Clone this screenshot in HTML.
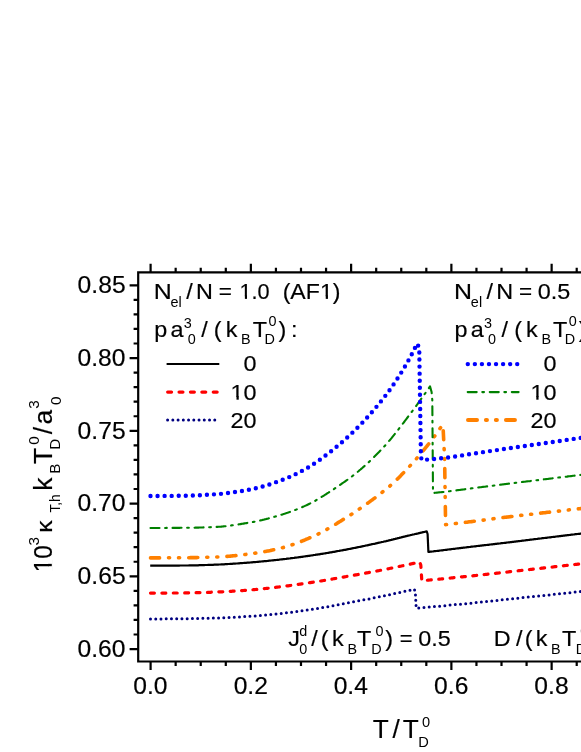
<!DOCTYPE html>
<html><head><meta charset="utf-8"><title>chart</title>
<style>svg{will-change:transform;}text{stroke:#000;stroke-width:0.18px;}text.s{stroke:none;}html,body{margin:0;padding:0;background:#fff;}body{width:581px;height:752px;overflow:hidden;position:relative;font-family:"Liberation Sans",sans-serif;}</style>
</head><body>
<svg width="581" height="752" viewBox="0 0 581 752" style="position:absolute;left:0;top:0;display:block" font-family="Liberation Sans, sans-serif" fill="#000">
<rect width="581" height="752" fill="#fff"/>
<g fill="none" stroke-linejoin="round">
<path d="M150.2 565.7 L151.2 565.7 L152.2 565.7 L153.2 565.7 L154.2 565.7 L155.2 565.7 L156.2 565.7 L157.2 565.7 L158.2 565.7 L159.2 565.7 L160.2 565.7 L161.2 565.7 L162.2 565.7 L163.2 565.7 L164.2 565.7 L165.2 565.7 L166.2 565.7 L167.2 565.6 L168.2 565.6 L169.2 565.6 L170.2 565.6 L171.2 565.6 L172.2 565.6 L173.2 565.6 L174.2 565.6 L175.2 565.6 L176.2 565.6 L177.2 565.6 L178.2 565.6 L179.2 565.6 L180.2 565.5 L181.2 565.5 L182.2 565.5 L183.2 565.5 L184.2 565.5 L185.2 565.5 L186.2 565.5 L187.2 565.5 L188.2 565.5 L189.2 565.4 L190.2 565.4 L191.2 565.4 L192.2 565.4 L193.2 565.4 L194.2 565.4 L195.2 565.3 L196.2 565.3 L197.2 565.3 L198.2 565.3 L199.2 565.2 L200.2 565.2 L201.2 565.2 L202.2 565.1 L203.2 565.1 L204.2 565.1 L205.2 565.0 L206.2 565.0 L207.2 565.0 L208.2 564.9 L209.2 564.9 L210.2 564.9 L211.2 564.8 L212.2 564.8 L213.2 564.8 L214.2 564.7 L215.2 564.7 L216.2 564.7 L217.2 564.6 L218.2 564.6 L219.2 564.5 L220.2 564.5 L221.2 564.4 L222.2 564.4 L223.2 564.3 L224.2 564.3 L225.2 564.2 L226.2 564.2 L227.2 564.1 L228.2 564.0 L229.2 564.0 L230.2 563.9 L231.2 563.9 L232.2 563.8 L233.2 563.7 L234.2 563.7 L235.2 563.6 L236.2 563.5 L237.2 563.5 L238.2 563.4 L239.2 563.3 L240.2 563.2 L241.2 563.2 L242.2 563.1 L243.2 563.0 L244.2 562.9 L245.2 562.9 L246.2 562.8 L247.2 562.7 L248.2 562.6 L249.2 562.6 L250.2 562.5 L251.2 562.4 L252.2 562.3 L253.2 562.2 L254.2 562.2 L255.2 562.1 L256.2 562.0 L257.2 561.9 L258.2 561.8 L259.2 561.7 L260.2 561.6 L261.2 561.5 L262.2 561.4 L263.2 561.3 L264.2 561.2 L265.2 561.2 L266.2 561.1 L267.2 561.0 L268.2 560.8 L269.2 560.7 L270.2 560.6 L271.2 560.5 L272.2 560.4 L273.2 560.3 L274.2 560.2 L275.2 560.1 L276.2 560.0 L277.2 559.9 L278.2 559.8 L279.2 559.7 L280.2 559.5 L281.2 559.4 L282.2 559.3 L283.2 559.2 L284.2 559.1 L285.2 559.0 L286.2 558.9 L287.2 558.7 L288.2 558.6 L289.2 558.5 L290.2 558.4 L291.2 558.2 L292.2 558.1 L293.2 558.0 L294.2 557.9 L295.2 557.7 L296.2 557.6 L297.2 557.5 L298.2 557.3 L299.2 557.2 L300.2 557.1 L301.2 556.9 L302.2 556.8 L303.2 556.6 L304.2 556.5 L305.2 556.3 L306.2 556.2 L307.2 556.1 L308.2 555.9 L309.2 555.8 L310.2 555.6 L311.2 555.5 L312.2 555.3 L313.2 555.2 L314.2 555.0 L315.2 554.9 L316.2 554.7 L317.2 554.6 L318.2 554.4 L319.2 554.3 L320.2 554.1 L321.2 553.9 L322.2 553.8 L323.2 553.6 L324.2 553.5 L325.2 553.3 L326.2 553.1 L327.2 553.0 L328.2 552.8 L329.2 552.6 L330.2 552.4 L331.2 552.3 L332.2 552.1 L333.2 551.9 L334.2 551.8 L335.2 551.6 L336.2 551.4 L337.2 551.2 L338.2 551.0 L339.2 550.9 L340.2 550.7 L341.2 550.5 L342.2 550.3 L343.2 550.1 L344.2 549.9 L345.2 549.8 L346.2 549.6 L347.2 549.4 L348.2 549.2 L349.2 549.0 L350.2 548.8 L351.2 548.6 L352.2 548.4 L353.2 548.2 L354.2 548.0 L355.2 547.8 L356.2 547.6 L357.2 547.4 L358.2 547.2 L359.2 547.0 L360.2 546.8 L361.2 546.6 L362.2 546.4 L363.2 546.2 L364.2 546.0 L365.2 545.7 L366.2 545.5 L367.2 545.3 L368.2 545.1 L369.2 544.9 L370.2 544.7 L371.2 544.4 L372.2 544.2 L373.2 544.0 L374.2 543.8 L375.2 543.6 L376.2 543.3 L377.2 543.1 L378.2 542.9 L379.2 542.7 L380.2 542.5 L381.2 542.2 L382.2 542.0 L383.2 541.8 L384.2 541.5 L385.2 541.3 L386.2 541.1 L387.2 540.8 L388.2 540.6 L389.2 540.3 L390.2 540.1 L391.2 539.9 L392.2 539.6 L393.2 539.4 L394.2 539.1 L395.2 538.9 L396.2 538.6 L397.2 538.4 L398.2 538.1 L399.2 537.9 L400.2 537.6 L401.2 537.4 L402.2 537.1 L403.2 536.9 L404.2 536.7 L405.2 536.4 L406.2 536.2 L407.2 535.9 L408.2 535.7 L409.2 535.5 L410.2 535.2 L411.2 535.0 L412.2 534.7 L413.2 534.5 L414.2 534.3 L415.2 534.0 L416.2 533.8 L417.2 533.6 L418.2 533.4 L419.2 533.1 L420.2 532.9 L421.2 532.7 L422.2 532.4 L423.2 532.2 L424.2 532.0 L425.2 531.7 L426.2 531.5 L426.7 531.4 L427.6 534.0 L428.4 552.0 L429.4 551.9 L430.4 551.7 L431.4 551.6 L432.4 551.5 L433.4 551.4 L434.4 551.2 L435.4 551.1 L436.4 551.0 L437.4 550.9 L438.4 550.8 L439.4 550.6 L440.4 550.5 L441.4 550.4 L442.4 550.3 L443.4 550.1 L444.4 550.0 L445.4 549.9 L446.4 549.8 L447.4 549.6 L448.4 549.5 L449.4 549.4 L450.4 549.3 L451.4 549.1 L452.4 549.0 L453.4 548.9 L454.4 548.8 L455.4 548.7 L456.4 548.5 L457.4 548.4 L458.4 548.3 L459.4 548.2 L460.4 548.1 L461.4 547.9 L462.4 547.8 L463.4 547.7 L464.4 547.6 L465.4 547.5 L466.4 547.3 L467.4 547.2 L468.4 547.1 L469.4 547.0 L470.4 546.9 L471.4 546.7 L472.4 546.6 L473.4 546.5 L474.4 546.4 L475.4 546.3 L476.4 546.1 L477.4 546.0 L478.4 545.9 L479.4 545.8 L480.4 545.7 L481.4 545.6 L482.4 545.4 L483.4 545.3 L484.4 545.2 L485.4 545.1 L486.4 545.0 L487.4 544.9 L488.4 544.8 L489.4 544.6 L490.4 544.5 L491.4 544.4 L492.4 544.3 L493.4 544.2 L494.4 544.1 L495.4 543.9 L496.4 543.8 L497.4 543.7 L498.4 543.6 L499.4 543.5 L500.4 543.4 L501.4 543.2 L502.4 543.1 L503.4 543.0 L504.4 542.9 L505.4 542.8 L506.4 542.6 L507.4 542.5 L508.4 542.4 L509.4 542.3 L510.4 542.2 L511.4 542.1 L512.4 541.9 L513.4 541.8 L514.4 541.7 L515.4 541.6 L516.4 541.4 L517.4 541.3 L518.4 541.2 L519.4 541.1 L520.4 541.0 L521.4 540.8 L522.4 540.7 L523.4 540.6 L524.4 540.5 L525.4 540.3 L526.4 540.2 L527.4 540.1 L528.4 540.0 L529.4 539.8 L530.4 539.7 L531.4 539.6 L532.4 539.5 L533.4 539.3 L534.4 539.2 L535.4 539.1 L536.4 539.0 L537.4 538.9 L538.4 538.7 L539.4 538.6 L540.4 538.5 L541.4 538.4 L542.4 538.2 L543.4 538.1 L544.4 538.0 L545.4 537.9 L546.4 537.8 L547.4 537.6 L548.4 537.5 L549.4 537.4 L550.4 537.3 L551.4 537.1 L552.4 537.0 L553.4 536.9 L554.4 536.8 L555.4 536.7 L556.4 536.5 L557.4 536.4 L558.4 536.3 L559.4 536.2 L560.4 536.1 L561.4 535.9 L562.4 535.8 L563.4 535.7 L564.4 535.6 L565.4 535.4 L566.4 535.3 L567.4 535.2 L568.4 535.1 L569.4 535.0 L570.4 534.8 L571.4 534.7 L572.4 534.6 L573.4 534.5 L574.4 534.4 L575.4 534.2 L576.4 534.1 L577.4 534.0 L578.4 533.9 L579.4 533.8 L580.4 533.6 L581.4 533.5 L582.4 533.4 L583.4 533.3 L584.4 533.2 L585.4 533.0 L586.4 532.9 L587.4 532.8 L588.4 532.7 L589.4 532.6 L590.0 532.5" stroke="#000" stroke-width="2.2"/>
<path d="M150.5 593.1 L151.5 593.1 L152.5 593.1 L153.5 593.1 L154.5 593.1 L155.5 593.1 L156.5 593.1 L157.5 593.1 L158.5 593.1 L159.5 593.1 L160.5 593.1 L161.5 593.1 L162.5 593.1 L163.5 593.1 L164.5 593.1 L165.5 593.1 L166.5 593.0 L167.5 593.0 L168.5 593.0 L169.5 593.0 L170.5 593.0 L171.5 593.0 L172.5 593.0 L173.5 593.0 L174.5 593.0 L175.5 593.0 L176.5 593.0 L177.5 593.0 L178.5 593.0 L179.5 593.0 L180.5 592.9 L181.5 592.9 L182.5 592.9 L183.5 592.9 L184.5 592.9 L185.5 592.9 L186.5 592.9 L187.5 592.9 L188.5 592.9 L189.5 592.8 L190.5 592.8 L191.5 592.8 L192.5 592.8 L193.5 592.8 L194.5 592.7 L195.5 592.7 L196.5 592.7 L197.5 592.7 L198.5 592.6 L199.5 592.6 L200.5 592.6 L201.5 592.6 L202.5 592.5 L203.5 592.5 L204.5 592.5 L205.5 592.4 L206.5 592.4 L207.5 592.4 L208.5 592.3 L209.5 592.3 L210.5 592.3 L211.5 592.2 L212.5 592.2 L213.5 592.2 L214.5 592.1 L215.5 592.1 L216.5 592.0 L217.5 592.0 L218.5 592.0 L219.5 591.9 L220.5 591.9 L221.5 591.8 L222.5 591.8 L223.5 591.7 L224.5 591.7 L225.5 591.6 L226.5 591.6 L227.5 591.5 L228.5 591.5 L229.5 591.4 L230.5 591.3 L231.5 591.3 L232.5 591.2 L233.5 591.2 L234.5 591.1 L235.5 591.0 L236.5 591.0 L237.5 590.9 L238.5 590.8 L239.5 590.8 L240.5 590.7 L241.5 590.6 L242.5 590.6 L243.5 590.5 L244.5 590.4 L245.5 590.3 L246.5 590.3 L247.5 590.2 L248.5 590.1 L249.5 590.0 L250.5 590.0 L251.5 589.9 L252.5 589.8 L253.5 589.7 L254.5 589.6 L255.5 589.5 L256.5 589.4 L257.5 589.4 L258.5 589.3 L259.5 589.2 L260.5 589.1 L261.5 589.0 L262.5 588.8 L263.5 588.7 L264.5 588.6 L265.5 588.5 L266.5 588.4 L267.5 588.3 L268.5 588.2 L269.5 588.1 L270.5 588.0 L271.5 587.8 L272.5 587.7 L273.5 587.6 L274.5 587.5 L275.5 587.4 L276.5 587.2 L277.5 587.1 L278.5 587.0 L279.5 586.9 L280.5 586.8 L281.5 586.6 L282.5 586.5 L283.5 586.4 L284.5 586.3 L285.5 586.1 L286.5 586.0 L287.5 585.9 L288.5 585.8 L289.5 585.6 L290.5 585.5 L291.5 585.4 L292.5 585.2 L293.5 585.1 L294.5 584.9 L295.5 584.8 L296.5 584.7 L297.5 584.5 L298.5 584.4 L299.5 584.2 L300.5 584.1 L301.5 583.9 L302.5 583.8 L303.5 583.7 L304.5 583.5 L305.5 583.4 L306.5 583.2 L307.5 583.1 L308.5 582.9 L309.5 582.7 L310.5 582.6 L311.5 582.4 L312.5 582.3 L313.5 582.1 L314.5 582.0 L315.5 581.8 L316.5 581.7 L317.5 581.5 L318.5 581.3 L319.5 581.2 L320.5 581.0 L321.5 580.9 L322.5 580.7 L323.5 580.5 L324.5 580.4 L325.5 580.2 L326.5 580.0 L327.5 579.9 L328.5 579.7 L329.5 579.5 L330.5 579.3 L331.5 579.2 L332.5 579.0 L333.5 578.8 L334.5 578.6 L335.5 578.5 L336.5 578.3 L337.5 578.1 L338.5 577.9 L339.5 577.8 L340.5 577.6 L341.5 577.4 L342.5 577.2 L343.5 577.1 L344.5 576.9 L345.5 576.7 L346.5 576.5 L347.5 576.4 L348.5 576.2 L349.5 576.0 L350.5 575.8 L351.5 575.7 L352.5 575.5 L353.5 575.3 L354.5 575.1 L355.5 574.9 L356.5 574.8 L357.5 574.6 L358.5 574.4 L359.5 574.2 L360.5 574.0 L361.5 573.9 L362.5 573.7 L363.5 573.5 L364.5 573.3 L365.5 573.1 L366.5 572.9 L367.5 572.8 L368.5 572.6 L369.5 572.4 L370.5 572.2 L371.5 572.0 L372.5 571.8 L373.5 571.6 L374.5 571.5 L375.5 571.3 L376.5 571.1 L377.5 570.9 L378.5 570.7 L379.5 570.5 L380.5 570.3 L381.5 570.1 L382.5 569.9 L383.5 569.7 L384.5 569.5 L385.5 569.3 L386.5 569.1 L387.5 568.9 L388.5 568.7 L389.5 568.5 L390.5 568.3 L391.5 568.1 L392.5 567.9 L393.5 567.7 L394.5 567.5 L395.5 567.3 L396.5 567.1 L397.5 566.9 L398.5 566.6 L399.5 566.4 L400.5 566.2 L401.5 566.0 L402.5 565.8 L403.5 565.6 L404.5 565.4 L405.5 565.2 L406.5 564.9 L407.5 564.7 L408.5 564.5 L409.5 564.3 L410.5 564.1 L411.5 563.8 L412.5 563.6 L413.5 563.4 L414.5 563.2 L415.5 562.9 L416.5 562.7 L417.5 562.5 L418.5 562.3 L419.5 562.0 L419.6 562.0 L420.8 565.0 L421.8 580.7 L422.8 580.6 L423.8 580.5 L424.8 580.4 L425.8 580.3 L426.8 580.3 L427.8 580.2 L428.8 580.1 L429.8 580.0 L430.8 579.9 L431.8 579.8 L432.8 579.7 L433.8 579.6 L434.8 579.5 L435.8 579.4 L436.8 579.3 L437.8 579.2 L438.8 579.2 L439.8 579.1 L440.8 579.0 L441.8 578.9 L442.8 578.8 L443.8 578.7 L444.8 578.6 L445.8 578.5 L446.8 578.4 L447.8 578.3 L448.8 578.2 L449.8 578.1 L450.8 578.0 L451.8 577.9 L452.8 577.8 L453.8 577.7 L454.8 577.6 L455.8 577.5 L456.8 577.4 L457.8 577.3 L458.8 577.2 L459.8 577.1 L460.8 577.0 L461.8 576.9 L462.8 576.8 L463.8 576.7 L464.8 576.6 L465.8 576.5 L466.8 576.4 L467.8 576.3 L468.8 576.2 L469.8 576.1 L470.8 576.0 L471.8 575.9 L472.8 575.8 L473.8 575.7 L474.8 575.6 L475.8 575.5 L476.8 575.4 L477.8 575.3 L478.8 575.2 L479.8 575.0 L480.8 574.9 L481.8 574.8 L482.8 574.7 L483.8 574.6 L484.8 574.5 L485.8 574.4 L486.8 574.3 L487.8 574.2 L488.8 574.1 L489.8 574.0 L490.8 573.8 L491.8 573.7 L492.8 573.6 L493.8 573.5 L494.8 573.4 L495.8 573.3 L496.8 573.2 L497.8 573.1 L498.8 573.0 L499.8 572.8 L500.8 572.7 L501.8 572.6 L502.8 572.5 L503.8 572.4 L504.8 572.3 L505.8 572.2 L506.8 572.1 L507.8 572.0 L508.8 571.8 L509.8 571.7 L510.8 571.6 L511.8 571.5 L512.8 571.4 L513.8 571.3 L514.8 571.2 L515.8 571.1 L516.8 571.0 L517.8 570.8 L518.8 570.7 L519.8 570.6 L520.8 570.5 L521.8 570.4 L522.8 570.3 L523.8 570.2 L524.8 570.1 L525.8 570.0 L526.8 569.8 L527.8 569.7 L528.8 569.6 L529.8 569.5 L530.8 569.4 L531.8 569.3 L532.8 569.2 L533.8 569.1 L534.8 568.9 L535.8 568.8 L536.8 568.7 L537.8 568.6 L538.8 568.5 L539.8 568.4 L540.8 568.3 L541.8 568.2 L542.8 568.1 L543.8 567.9 L544.8 567.8 L545.8 567.7 L546.8 567.6 L547.8 567.5 L548.8 567.4 L549.8 567.3 L550.8 567.2 L551.8 567.1 L552.8 567.0 L553.8 566.8 L554.8 566.7 L555.8 566.6 L556.8 566.5 L557.8 566.4 L558.8 566.3 L559.8 566.2 L560.8 566.1 L561.8 566.0 L562.8 565.9 L563.8 565.7 L564.8 565.6 L565.8 565.5 L566.8 565.4 L567.8 565.3 L568.8 565.2 L569.8 565.1 L570.8 565.0 L571.8 564.9 L572.8 564.8 L573.8 564.7 L574.8 564.5 L575.8 564.4 L576.8 564.3 L577.8 564.2 L578.8 564.1 L579.8 564.0 L580.8 563.9 L581.8 563.8 L582.8 563.7 L583.8 563.6 L584.8 563.5 L585.8 563.4 L586.8 563.2 L587.8 563.1 L588.8 563.0 L589.8 562.9 L590.0 562.9" stroke="#ff0000" stroke-width="3.2" stroke-dasharray="3.9 7.5" stroke-linecap="round"/>
<path d="M150.5 618.9 L151.5 618.9 L152.5 618.9 L153.5 618.9 L154.5 618.9 L155.5 618.9 L156.5 618.9 L157.5 618.9 L158.5 618.9 L159.5 618.9 L160.5 618.9 L161.5 618.9 L162.5 618.9 L163.5 618.9 L164.5 618.9 L165.5 618.9 L166.5 618.8 L167.5 618.8 L168.5 618.8 L169.5 618.8 L170.5 618.8 L171.5 618.8 L172.5 618.8 L173.5 618.8 L174.5 618.8 L175.5 618.8 L176.5 618.8 L177.5 618.8 L178.5 618.8 L179.5 618.8 L180.5 618.7 L181.5 618.7 L182.5 618.7 L183.5 618.7 L184.5 618.7 L185.5 618.7 L186.5 618.7 L187.5 618.7 L188.5 618.7 L189.5 618.6 L190.5 618.6 L191.5 618.6 L192.5 618.6 L193.5 618.6 L194.5 618.6 L195.5 618.5 L196.5 618.5 L197.5 618.5 L198.5 618.5 L199.5 618.4 L200.5 618.4 L201.5 618.4 L202.5 618.4 L203.5 618.3 L204.5 618.3 L205.5 618.3 L206.5 618.3 L207.5 618.2 L208.5 618.2 L209.5 618.2 L210.5 618.1 L211.5 618.1 L212.5 618.1 L213.5 618.0 L214.5 618.0 L215.5 618.0 L216.5 618.0 L217.5 617.9 L218.5 617.9 L219.5 617.8 L220.5 617.8 L221.5 617.8 L222.5 617.7 L223.5 617.7 L224.5 617.7 L225.5 617.6 L226.5 617.6 L227.5 617.5 L228.5 617.5 L229.5 617.4 L230.5 617.4 L231.5 617.3 L232.5 617.3 L233.5 617.2 L234.5 617.2 L235.5 617.1 L236.5 617.1 L237.5 617.0 L238.5 617.0 L239.5 616.9 L240.5 616.9 L241.5 616.8 L242.5 616.8 L243.5 616.7 L244.5 616.6 L245.5 616.6 L246.5 616.5 L247.5 616.5 L248.5 616.4 L249.5 616.3 L250.5 616.3 L251.5 616.2 L252.5 616.1 L253.5 616.1 L254.5 616.0 L255.5 615.9 L256.5 615.8 L257.5 615.8 L258.5 615.7 L259.5 615.6 L260.5 615.5 L261.5 615.4 L262.5 615.3 L263.5 615.2 L264.5 615.1 L265.5 615.1 L266.5 615.0 L267.5 614.9 L268.5 614.8 L269.5 614.7 L270.5 614.6 L271.5 614.5 L272.5 614.4 L273.5 614.3 L274.5 614.1 L275.5 614.0 L276.5 613.9 L277.5 613.8 L278.5 613.7 L279.5 613.6 L280.5 613.5 L281.5 613.4 L282.5 613.3 L283.5 613.2 L284.5 613.1 L285.5 612.9 L286.5 612.8 L287.5 612.7 L288.5 612.6 L289.5 612.5 L290.5 612.4 L291.5 612.2 L292.5 612.1 L293.5 612.0 L294.5 611.9 L295.5 611.7 L296.5 611.6 L297.5 611.5 L298.5 611.3 L299.5 611.2 L300.5 611.0 L301.5 610.9 L302.5 610.8 L303.5 610.6 L304.5 610.5 L305.5 610.3 L306.5 610.2 L307.5 610.0 L308.5 609.9 L309.5 609.7 L310.5 609.6 L311.5 609.4 L312.5 609.3 L313.5 609.1 L314.5 609.0 L315.5 608.8 L316.5 608.7 L317.5 608.5 L318.5 608.3 L319.5 608.2 L320.5 608.0 L321.5 607.8 L322.5 607.6 L323.5 607.5 L324.5 607.3 L325.5 607.1 L326.5 606.9 L327.5 606.7 L328.5 606.5 L329.5 606.4 L330.5 606.2 L331.5 606.0 L332.5 605.8 L333.5 605.6 L334.5 605.4 L335.5 605.2 L336.5 605.0 L337.5 604.8 L338.5 604.6 L339.5 604.4 L340.5 604.3 L341.5 604.1 L342.5 603.9 L343.5 603.7 L344.5 603.5 L345.5 603.3 L346.5 603.1 L347.5 602.9 L348.5 602.7 L349.5 602.6 L350.5 602.4 L351.5 602.2 L352.5 602.0 L353.5 601.8 L354.5 601.6 L355.5 601.4 L356.5 601.3 L357.5 601.1 L358.5 600.9 L359.5 600.7 L360.5 600.5 L361.5 600.3 L362.5 600.1 L363.5 599.9 L364.5 599.7 L365.5 599.6 L366.5 599.4 L367.5 599.2 L368.5 599.0 L369.5 598.8 L370.5 598.6 L371.5 598.4 L372.5 598.2 L373.5 598.0 L374.5 597.8 L375.5 597.6 L376.5 597.4 L377.5 597.2 L378.5 597.0 L379.5 596.8 L380.5 596.6 L381.5 596.4 L382.5 596.2 L383.5 596.0 L384.5 595.8 L385.5 595.6 L386.5 595.3 L387.5 595.1 L388.5 594.9 L389.5 594.7 L390.5 594.5 L391.5 594.3 L392.5 594.1 L393.5 593.8 L394.5 593.6 L395.5 593.4 L396.5 593.2 L397.5 593.0 L398.5 592.7 L399.5 592.5 L400.5 592.3 L401.5 592.1 L402.5 591.8 L403.5 591.6 L404.5 591.4 L405.5 591.2 L406.5 591.0 L407.5 590.7 L408.5 590.5 L409.5 590.3 L410.5 590.1 L411.5 589.8 L412.5 589.6 L413.5 589.4 L414.3 589.2 L415.3 592.0 L416.2 608.2 L417.2 608.1 L418.2 608.0 L419.2 607.9 L420.2 607.9 L421.2 607.8 L422.2 607.7 L423.2 607.6 L424.2 607.5 L425.2 607.4 L426.2 607.3 L427.2 607.2 L428.2 607.1 L429.2 607.1 L430.2 607.0 L431.2 606.9 L432.2 606.8 L433.2 606.7 L434.2 606.6 L435.2 606.5 L436.2 606.4 L437.2 606.3 L438.2 606.2 L439.2 606.2 L440.2 606.1 L441.2 606.0 L442.2 605.9 L443.2 605.8 L444.2 605.7 L445.2 605.6 L446.2 605.5 L447.2 605.4 L448.2 605.3 L449.2 605.2 L450.2 605.1 L451.2 605.0 L452.2 604.9 L453.2 604.8 L454.2 604.7 L455.2 604.6 L456.2 604.6 L457.2 604.5 L458.2 604.4 L459.2 604.3 L460.2 604.2 L461.2 604.1 L462.2 604.0 L463.2 603.9 L464.2 603.8 L465.2 603.7 L466.2 603.6 L467.2 603.5 L468.2 603.4 L469.2 603.3 L470.2 603.2 L471.2 603.1 L472.2 603.0 L473.2 602.9 L474.2 602.8 L475.2 602.7 L476.2 602.6 L477.2 602.5 L478.2 602.4 L479.2 602.3 L480.2 602.2 L481.2 602.1 L482.2 602.0 L483.2 601.8 L484.2 601.7 L485.2 601.6 L486.2 601.5 L487.2 601.4 L488.2 601.3 L489.2 601.2 L490.2 601.1 L491.2 601.0 L492.2 600.9 L493.2 600.8 L494.2 600.7 L495.2 600.6 L496.2 600.5 L497.2 600.4 L498.2 600.3 L499.2 600.2 L500.2 600.0 L501.2 599.9 L502.2 599.8 L503.2 599.7 L504.2 599.6 L505.2 599.5 L506.2 599.4 L507.2 599.3 L508.2 599.2 L509.2 599.1 L510.2 599.0 L511.2 598.9 L512.2 598.8 L513.2 598.7 L514.2 598.6 L515.2 598.5 L516.2 598.4 L517.2 598.2 L518.2 598.1 L519.2 598.0 L520.2 597.9 L521.2 597.8 L522.2 597.7 L523.2 597.6 L524.2 597.5 L525.2 597.4 L526.2 597.3 L527.2 597.2 L528.2 597.1 L529.2 597.0 L530.2 596.9 L531.2 596.8 L532.2 596.7 L533.2 596.6 L534.2 596.4 L535.2 596.3 L536.2 596.2 L537.2 596.1 L538.2 596.0 L539.2 595.9 L540.2 595.8 L541.2 595.7 L542.2 595.6 L543.2 595.5 L544.2 595.4 L545.2 595.3 L546.2 595.2 L547.2 595.1 L548.2 595.0 L549.2 594.9 L550.2 594.8 L551.2 594.7 L552.2 594.5 L553.2 594.4 L554.2 594.3 L555.2 594.2 L556.2 594.1 L557.2 594.0 L558.2 593.9 L559.2 593.8 L560.2 593.7 L561.2 593.6 L562.2 593.5 L563.2 593.4 L564.2 593.3 L565.2 593.2 L566.2 593.1 L567.2 593.0 L568.2 592.9 L569.2 592.8 L570.2 592.7 L571.2 592.6 L572.2 592.5 L573.2 592.3 L574.2 592.2 L575.2 592.1 L576.2 592.0 L577.2 591.9 L578.2 591.8 L579.2 591.7 L580.2 591.6 L581.2 591.5 L582.2 591.4 L583.2 591.3 L584.2 591.2 L585.2 591.1 L586.2 591.0 L587.2 590.9 L588.2 590.8 L589.2 590.7 L590.0 590.6" stroke="#000080" stroke-width="3.0" stroke-dasharray="0 5.24" stroke-linecap="round"/>
<path d="M150.5 557.9 L151.5 557.9 L152.5 557.9 L153.5 557.9 L154.5 557.9 L155.5 557.9 L156.5 557.9 L157.5 557.9 L158.5 557.9 L159.5 557.9 L160.5 557.9 L161.5 557.9 L162.5 557.9 L163.5 557.9 L164.5 557.9 L165.5 557.9 L166.5 557.8 L167.5 557.8 L168.5 557.8 L169.5 557.8 L170.5 557.8 L171.5 557.8 L172.5 557.8 L173.5 557.8 L174.5 557.8 L175.5 557.8 L176.5 557.8 L177.5 557.8 L178.5 557.8 L179.5 557.7 L180.5 557.7 L181.5 557.7 L182.5 557.7 L183.5 557.7 L184.5 557.7 L185.5 557.7 L186.5 557.7 L187.5 557.7 L188.5 557.7 L189.5 557.7 L190.5 557.6 L191.5 557.6 L192.5 557.6 L193.5 557.6 L194.5 557.6 L195.5 557.6 L196.5 557.6 L197.5 557.5 L198.5 557.5 L199.5 557.5 L200.5 557.5 L201.5 557.5 L202.5 557.4 L203.5 557.4 L204.5 557.4 L205.5 557.4 L206.5 557.3 L207.5 557.3 L208.5 557.3 L209.5 557.3 L210.5 557.2 L211.5 557.2 L212.5 557.2 L213.5 557.1 L214.5 557.1 L215.5 557.1 L216.5 557.0 L217.5 557.0 L218.5 557.0 L219.5 556.9 L220.5 556.9 L221.5 556.8 L222.5 556.7 L223.5 556.7 L224.5 556.6 L225.5 556.5 L226.5 556.4 L227.5 556.4 L228.5 556.3 L229.5 556.2 L230.5 556.1 L231.5 556.0 L232.5 555.9 L233.5 555.8 L234.5 555.7 L235.5 555.6 L236.5 555.5 L237.5 555.4 L238.5 555.3 L239.5 555.2 L240.5 555.0 L241.5 554.9 L242.5 554.8 L243.5 554.7 L244.5 554.6 L245.5 554.5 L246.5 554.3 L247.5 554.2 L248.5 554.1 L249.5 554.0 L250.5 553.8 L251.5 553.7 L252.5 553.6 L253.5 553.4 L254.5 553.3 L255.5 553.1 L256.5 553.0 L257.5 552.8 L258.5 552.7 L259.5 552.5 L260.5 552.4 L261.5 552.2 L262.5 552.0 L263.5 551.8 L264.5 551.6 L265.5 551.5 L266.5 551.3 L267.5 551.1 L268.5 550.9 L269.5 550.7 L270.5 550.5 L271.5 550.2 L272.5 550.0 L273.5 549.8 L274.5 549.6 L275.5 549.4 L276.5 549.1 L277.5 548.9 L278.5 548.7 L279.5 548.4 L280.5 548.2 L281.5 547.9 L282.5 547.7 L283.5 547.4 L284.5 547.1 L285.5 546.9 L286.5 546.6 L287.5 546.3 L288.5 546.0 L289.5 545.7 L290.5 545.3 L291.5 545.0 L292.5 544.7 L293.5 544.3 L294.5 544.0 L295.5 543.6 L296.5 543.2 L297.5 542.9 L298.5 542.5 L299.5 542.1 L300.5 541.7 L301.5 541.3 L302.5 540.9 L303.5 540.5 L304.5 540.1 L305.5 539.7 L306.5 539.2 L307.5 538.8 L308.5 538.4 L309.5 537.9 L310.5 537.5 L311.5 537.1 L312.5 536.6 L313.5 536.2 L314.5 535.7 L315.5 535.3 L316.5 534.8 L317.5 534.3 L318.5 533.8 L319.5 533.3 L320.5 532.8 L321.5 532.3 L322.5 531.8 L323.5 531.3 L324.5 530.7 L325.5 530.1 L326.5 529.6 L327.5 529.0 L328.5 528.4 L329.5 527.9 L330.5 527.3 L331.5 526.7 L332.5 526.1 L333.5 525.5 L334.5 524.9 L335.5 524.3 L336.5 523.7 L337.5 523.0 L338.5 522.4 L339.5 521.8 L340.5 521.2 L341.5 520.6 L342.5 519.9 L343.5 519.3 L344.5 518.7 L345.5 518.1 L346.5 517.5 L347.5 516.8 L348.5 516.2 L349.5 515.6 L350.5 514.9 L351.5 514.3 L352.5 513.6 L353.5 513.0 L354.5 512.3 L355.5 511.6 L356.5 511.0 L357.5 510.3 L358.5 509.6 L359.5 508.9 L360.5 508.2 L361.5 507.5 L362.5 506.9 L363.5 506.2 L364.5 505.4 L365.5 504.7 L366.5 504.0 L367.5 503.3 L368.5 502.6 L369.5 501.9 L370.5 501.1 L371.5 500.4 L372.5 499.7 L373.5 498.9 L374.5 498.2 L375.5 497.4 L376.5 496.7 L377.5 495.9 L378.5 495.2 L379.5 494.4 L380.5 493.6 L381.5 492.8 L382.5 492.0 L383.5 491.2 L384.5 490.4 L385.5 489.6 L386.5 488.8 L387.5 488.0 L388.5 487.1 L389.5 486.3 L390.5 485.4 L391.5 484.5 L392.5 483.6 L393.5 482.7 L394.5 481.8 L395.5 480.8 L396.5 479.8 L397.5 478.9 L398.5 477.9 L399.5 476.9 L400.5 475.9 L401.5 474.8 L402.5 473.8 L403.5 472.8 L404.5 471.7 L405.5 470.7 L406.5 469.6 L407.5 468.5 L408.5 467.4 L409.5 466.4 L410.5 465.3 L411.5 464.2 L412.5 463.1 L413.5 462.0 L414.5 460.8 L415.5 459.7 L416.5 458.6 L417.5 457.4 L418.5 456.3 L419.5 455.1 L420.5 453.9 L421.5 452.7 L422.5 451.5 L423.5 450.3 L424.5 449.1 L425.5 447.9 L426.5 446.7 L427.5 445.4 L428.5 444.2 L429.5 442.9 L430.5 441.7 L431.5 440.4 L432.5 439.1 L433.5 437.7 L434.5 436.4 L435.5 435.0 L436.5 433.6 L437.5 432.2 L438.5 430.8 L439.5 429.3 L440.5 427.8 L441.5 426.4 L441.6 426.2" stroke="#ff8000" stroke-width="3.6" stroke-dasharray="9.069 8.969 1.058 8.969 1.058 9.120" stroke-linecap="round"/>
<path d="M441.6 426.2 L443.2 430.0 L444.6 458.0 L445.6 524.6 L446.6 524.5 L447.6 524.4 L448.6 524.3 L449.6 524.2 L450.6 524.0 L451.6 523.9 L452.6 523.8 L453.6 523.7 L454.6 523.6 L455.6 523.5 L456.6 523.4 L457.6 523.2 L458.6 523.1 L459.6 523.0 L460.6 522.9 L461.6 522.8 L462.6 522.7 L463.6 522.5 L464.6 522.4 L465.6 522.3 L466.6 522.2 L467.6 522.1 L468.6 521.9 L469.6 521.8 L470.6 521.7 L471.6 521.6 L472.6 521.5 L473.6 521.3 L474.6 521.2 L475.6 521.1 L476.6 521.0 L477.6 520.8 L478.6 520.7 L479.6 520.6 L480.6 520.5 L481.6 520.3 L482.6 520.2 L483.6 520.1 L484.6 519.9 L485.6 519.8 L486.6 519.7 L487.6 519.5 L488.6 519.4 L489.6 519.3 L490.6 519.1 L491.6 519.0 L492.6 518.9 L493.6 518.7 L494.6 518.6 L495.6 518.5 L496.6 518.3 L497.6 518.2 L498.6 518.1 L499.6 518.0 L500.6 517.8 L501.6 517.7 L502.6 517.6 L503.6 517.5 L504.6 517.3 L505.6 517.2 L506.6 517.1 L507.6 517.0 L508.6 516.9 L509.6 516.7 L510.6 516.6 L511.6 516.5 L512.6 516.4 L513.6 516.3 L514.6 516.1 L515.6 516.0 L516.6 515.9 L517.6 515.8 L518.6 515.7 L519.6 515.6 L520.6 515.4 L521.6 515.3 L522.6 515.2 L523.6 515.1 L524.6 515.0 L525.6 514.9 L526.6 514.7 L527.6 514.6 L528.6 514.5 L529.6 514.4 L530.6 514.3 L531.6 514.2 L532.6 514.1 L533.6 513.9 L534.6 513.8 L535.6 513.7 L536.6 513.6 L537.6 513.5 L538.6 513.4 L539.6 513.2 L540.6 513.1 L541.6 513.0 L542.6 512.9 L543.6 512.8 L544.6 512.7 L545.6 512.6 L546.6 512.4 L547.6 512.3 L548.6 512.2 L549.6 512.1 L550.6 512.0 L551.6 511.9 L552.6 511.8 L553.6 511.6 L554.6 511.5 L555.6 511.4 L556.6 511.3 L557.6 511.2 L558.6 511.1 L559.6 511.0 L560.6 510.9 L561.6 510.7 L562.6 510.6 L563.6 510.5 L564.6 510.4 L565.6 510.3 L566.6 510.2 L567.6 510.1 L568.6 510.0 L569.6 509.8 L570.6 509.7 L571.6 509.6 L572.6 509.5 L573.6 509.4 L574.6 509.3 L575.6 509.2 L576.6 509.1 L577.6 509.0 L578.6 508.8 L579.6 508.7 L580.6 508.6 L581.6 508.5 L582.6 508.4 L583.6 508.3 L584.6 508.2 L585.6 508.1 L586.6 508.0 L587.6 507.9 L588.6 507.8 L589.6 507.6 L590.0 507.6" stroke="#ff8000" stroke-width="3.6" stroke-dasharray="9 8.9 1.05 8.9 1.05 9.05" stroke-dashoffset="33.12" stroke-linecap="round"/>
<path d="M150.5 528.0 L151.5 528.0 L152.5 528.0 L153.5 528.0 L154.5 528.0 L155.5 528.0 L156.5 528.0 L157.5 528.0 L158.5 528.0 L159.5 528.0 L160.5 528.0 L161.5 528.0 L162.5 528.0 L163.5 528.0 L164.5 528.0 L165.5 528.0 L166.5 527.9 L167.5 527.9 L168.5 527.9 L169.5 527.9 L170.5 527.9 L171.5 527.9 L172.5 527.9 L173.5 527.9 L174.5 527.9 L175.5 527.9 L176.5 527.9 L177.5 527.9 L178.5 527.9 L179.5 527.9 L180.5 527.8 L181.5 527.8 L182.5 527.8 L183.5 527.8 L184.5 527.8 L185.5 527.8 L186.5 527.8 L187.5 527.8 L188.5 527.8 L189.5 527.7 L190.5 527.7 L191.5 527.7 L192.5 527.7 L193.5 527.7 L194.5 527.7 L195.5 527.6 L196.5 527.6 L197.5 527.6 L198.5 527.6 L199.5 527.5 L200.5 527.5 L201.5 527.5 L202.5 527.5 L203.5 527.4 L204.5 527.4 L205.5 527.4 L206.5 527.3 L207.5 527.3 L208.5 527.3 L209.5 527.2 L210.5 527.2 L211.5 527.1 L212.5 527.1 L213.5 527.1 L214.5 527.0 L215.5 527.0 L216.5 526.9 L217.5 526.9 L218.5 526.8 L219.5 526.7 L220.5 526.7 L221.5 526.6 L222.5 526.5 L223.5 526.4 L224.5 526.3 L225.5 526.2 L226.5 526.1 L227.5 526.0 L228.5 525.8 L229.5 525.7 L230.5 525.6 L231.5 525.4 L232.5 525.3 L233.5 525.2 L234.5 525.0 L235.5 524.9 L236.5 524.7 L237.5 524.6 L238.5 524.4 L239.5 524.3 L240.5 524.1 L241.5 523.9 L242.5 523.8 L243.5 523.6 L244.5 523.4 L245.5 523.3 L246.5 523.1 L247.5 522.9 L248.5 522.8 L249.5 522.6 L250.5 522.4 L251.5 522.2 L252.5 522.1 L253.5 521.9 L254.5 521.7 L255.5 521.5 L256.5 521.3 L257.5 521.1 L258.5 520.8 L259.5 520.6 L260.5 520.4 L261.5 520.2 L262.5 519.9 L263.5 519.7 L264.5 519.4 L265.5 519.2 L266.5 518.9 L267.5 518.7 L268.5 518.4 L269.5 518.2 L270.5 517.9 L271.5 517.6 L272.5 517.3 L273.5 517.1 L274.5 516.8 L275.5 516.5 L276.5 516.2 L277.5 515.9 L278.5 515.6 L279.5 515.3 L280.5 515.0 L281.5 514.7 L282.5 514.4 L283.5 514.1 L284.5 513.8 L285.5 513.4 L286.5 513.1 L287.5 512.8 L288.5 512.4 L289.5 512.1 L290.5 511.7 L291.5 511.4 L292.5 511.0 L293.5 510.6 L294.5 510.3 L295.5 509.9 L296.5 509.5 L297.5 509.1 L298.5 508.7 L299.5 508.3 L300.5 507.8 L301.5 507.4 L302.5 507.0 L303.5 506.5 L304.5 506.1 L305.5 505.6 L306.5 505.2 L307.5 504.7 L308.5 504.2 L309.5 503.7 L310.5 503.3 L311.5 502.8 L312.5 502.2 L313.5 501.7 L314.5 501.2 L315.5 500.6 L316.5 500.0 L317.5 499.5 L318.5 498.9 L319.5 498.3 L320.5 497.7 L321.5 497.0 L322.5 496.4 L323.5 495.8 L324.5 495.2 L325.5 494.5 L326.5 493.9 L327.5 493.2 L328.5 492.6 L329.5 491.9 L330.5 491.2 L331.5 490.6 L332.5 489.9 L333.5 489.3 L334.5 488.6 L335.5 487.9 L336.5 487.3 L337.5 486.6 L338.5 485.9 L339.5 485.3 L340.5 484.6 L341.5 483.9 L342.5 483.2 L343.5 482.5 L344.5 481.8 L345.5 481.1 L346.5 480.4 L347.5 479.7 L348.5 478.9 L349.5 478.2 L350.5 477.5 L351.5 476.7 L352.5 476.0 L353.5 475.2 L354.5 474.4 L355.5 473.6 L356.5 472.8 L357.5 472.0 L358.5 471.2 L359.5 470.3 L360.5 469.5 L361.5 468.6 L362.5 467.8 L363.5 466.9 L364.5 466.0 L365.5 465.1 L366.5 464.2 L367.5 463.3 L368.5 462.4 L369.5 461.4 L370.5 460.5 L371.5 459.5 L372.5 458.6 L373.5 457.6 L374.5 456.6 L375.5 455.6 L376.5 454.6 L377.5 453.6 L378.5 452.6 L379.5 451.5 L380.5 450.5 L381.5 449.4 L382.5 448.4 L383.5 447.3 L384.5 446.2 L385.5 445.1 L386.5 444.0 L387.5 442.8 L388.5 441.6 L389.5 440.5 L390.5 439.3 L391.5 438.1 L392.5 436.8 L393.5 435.6 L394.5 434.4 L395.5 433.1 L396.5 431.8 L397.5 430.6 L398.5 429.3 L399.5 428.0 L400.5 426.7 L401.5 425.4 L402.5 424.1 L403.5 422.8 L404.5 421.5 L405.5 420.1 L406.5 418.8 L407.5 417.5 L408.5 416.2 L409.5 414.9 L410.5 413.6 L411.5 412.2 L412.5 410.9 L413.5 409.5 L414.5 408.2 L415.5 406.8 L416.5 405.5 L417.5 404.1 L418.5 402.7 L419.5 401.3 L420.5 399.9 L421.5 398.5 L422.5 397.1 L423.5 395.7 L424.5 394.3 L425.5 392.9 L426.5 391.4 L427.5 390.0 L428.5 388.6 L429.5 387.1 L430.0 386.4 L431.6 392.0 L432.3 400.0 L433.0 492.9 L434.0 492.9 L435.0 492.8 L436.0 492.7 L437.0 492.6 L438.0 492.5 L439.0 492.4 L440.0 492.3 L441.0 492.2 L442.0 492.1 L443.0 492.0 L444.0 491.9 L445.0 491.8 L446.0 491.6 L447.0 491.5 L448.0 491.4 L449.0 491.3 L450.0 491.2 L451.0 491.0 L452.0 490.9 L453.0 490.8 L454.0 490.7 L455.0 490.5 L456.0 490.4 L457.0 490.3 L458.0 490.1 L459.0 490.0 L460.0 489.9 L461.0 489.7 L462.0 489.6 L463.0 489.5 L464.0 489.4 L465.0 489.2 L466.0 489.1 L467.0 489.0 L468.0 488.8 L469.0 488.7 L470.0 488.6 L471.0 488.4 L472.0 488.3 L473.0 488.2 L474.0 488.1 L475.0 487.9 L476.0 487.8 L477.0 487.7 L478.0 487.5 L479.0 487.4 L480.0 487.3 L481.0 487.2 L482.0 487.0 L483.0 486.9 L484.0 486.8 L485.0 486.7 L486.0 486.5 L487.0 486.4 L488.0 486.3 L489.0 486.2 L490.0 486.0 L491.0 485.9 L492.0 485.8 L493.0 485.7 L494.0 485.5 L495.0 485.4 L496.0 485.3 L497.0 485.2 L498.0 485.0 L499.0 484.9 L500.0 484.8 L501.0 484.6 L502.0 484.5 L503.0 484.4 L504.0 484.3 L505.0 484.1 L506.0 484.0 L507.0 483.9 L508.0 483.8 L509.0 483.6 L510.0 483.5 L511.0 483.4 L512.0 483.3 L513.0 483.2 L514.0 483.0 L515.0 482.9 L516.0 482.8 L517.0 482.7 L518.0 482.5 L519.0 482.4 L520.0 482.3 L521.0 482.2 L522.0 482.0 L523.0 481.9 L524.0 481.8 L525.0 481.7 L526.0 481.5 L527.0 481.4 L528.0 481.3 L529.0 481.2 L530.0 481.1 L531.0 480.9 L532.0 480.8 L533.0 480.7 L534.0 480.6 L535.0 480.4 L536.0 480.3 L537.0 480.2 L538.0 480.1 L539.0 480.0 L540.0 479.8 L541.0 479.7 L542.0 479.6 L543.0 479.5 L544.0 479.3 L545.0 479.2 L546.0 479.1 L547.0 479.0 L548.0 478.9 L549.0 478.7 L550.0 478.6 L551.0 478.5 L552.0 478.4 L553.0 478.2 L554.0 478.1 L555.0 478.0 L556.0 477.9 L557.0 477.8 L558.0 477.6 L559.0 477.5 L560.0 477.4 L561.0 477.3 L562.0 477.2 L563.0 477.0 L564.0 476.9 L565.0 476.8 L566.0 476.7 L567.0 476.6 L568.0 476.4 L569.0 476.3 L570.0 476.2 L571.0 476.1 L572.0 476.0 L573.0 475.8 L574.0 475.7 L575.0 475.6 L576.0 475.5 L577.0 475.4 L578.0 475.2 L579.0 475.1 L580.0 475.0 L581.0 474.9 L582.0 474.8 L583.0 474.6 L584.0 474.5 L585.0 474.4 L586.0 474.3 L587.0 474.2 L588.0 474.0 L589.0 473.9 L590.0 473.8" stroke="#008000" stroke-width="2.1" stroke-dasharray="9 5.6 1.7 5.75" stroke-linecap="round"/>
<path d="M150.5 496.0 L151.5 496.0 L152.5 496.0 L153.5 496.0 L154.5 496.0 L155.5 496.0 L156.5 496.0 L157.5 496.0 L158.5 496.0 L159.5 496.0 L160.5 496.0 L161.5 496.0 L162.5 496.0 L163.5 495.9 L164.5 495.9 L165.5 495.9 L166.5 495.9 L167.5 495.9 L168.5 495.9 L169.5 495.9 L170.5 495.9 L171.5 495.9 L172.5 495.9 L173.5 495.9 L174.5 495.8 L175.5 495.8 L176.5 495.8 L177.5 495.8 L178.5 495.8 L179.5 495.8 L180.5 495.8 L181.5 495.8 L182.5 495.7 L183.5 495.7 L184.5 495.7 L185.5 495.7 L186.5 495.7 L187.5 495.7 L188.5 495.6 L189.5 495.6 L190.5 495.6 L191.5 495.5 L192.5 495.5 L193.5 495.5 L194.5 495.4 L195.5 495.4 L196.5 495.4 L197.5 495.3 L198.5 495.3 L199.5 495.2 L200.5 495.2 L201.5 495.1 L202.5 495.1 L203.5 495.0 L204.5 495.0 L205.5 494.9 L206.5 494.8 L207.5 494.8 L208.5 494.7 L209.5 494.7 L210.5 494.6 L211.5 494.5 L212.5 494.5 L213.5 494.4 L214.5 494.3 L215.5 494.3 L216.5 494.2 L217.5 494.1 L218.5 494.0 L219.5 493.9 L220.5 493.9 L221.5 493.8 L222.5 493.7 L223.5 493.5 L224.5 493.4 L225.5 493.3 L226.5 493.2 L227.5 493.1 L228.5 493.0 L229.5 492.8 L230.5 492.7 L231.5 492.6 L232.5 492.4 L233.5 492.3 L234.5 492.1 L235.5 492.0 L236.5 491.8 L237.5 491.7 L238.5 491.5 L239.5 491.4 L240.5 491.2 L241.5 491.0 L242.5 490.9 L243.5 490.7 L244.5 490.5 L245.5 490.3 L246.5 490.1 L247.5 490.0 L248.5 489.8 L249.5 489.6 L250.5 489.4 L251.5 489.2 L252.5 489.0 L253.5 488.8 L254.5 488.6 L255.5 488.3 L256.5 488.1 L257.5 487.8 L258.5 487.6 L259.5 487.3 L260.5 487.1 L261.5 486.8 L262.5 486.5 L263.5 486.2 L264.5 485.9 L265.5 485.6 L266.5 485.3 L267.5 485.0 L268.5 484.7 L269.5 484.4 L270.5 484.0 L271.5 483.7 L272.5 483.4 L273.5 483.0 L274.5 482.7 L275.5 482.3 L276.5 482.0 L277.5 481.6 L278.5 481.2 L279.5 480.9 L280.5 480.5 L281.5 480.1 L282.5 479.8 L283.5 479.4 L284.5 479.0 L285.5 478.6 L286.5 478.2 L287.5 477.8 L288.5 477.4 L289.5 477.0 L290.5 476.5 L291.5 476.1 L292.5 475.6 L293.5 475.2 L294.5 474.7 L295.5 474.2 L296.5 473.7 L297.5 473.2 L298.5 472.7 L299.5 472.2 L300.5 471.7 L301.5 471.1 L302.5 470.6 L303.5 470.1 L304.5 469.5 L305.5 468.9 L306.5 468.4 L307.5 467.8 L308.5 467.2 L309.5 466.6 L310.5 466.0 L311.5 465.4 L312.5 464.7 L313.5 464.1 L314.5 463.4 L315.5 462.8 L316.5 462.1 L317.5 461.4 L318.5 460.7 L319.5 460.0 L320.5 459.2 L321.5 458.5 L322.5 457.8 L323.5 457.0 L324.5 456.3 L325.5 455.5 L326.5 454.8 L327.5 454.0 L328.5 453.2 L329.5 452.4 L330.5 451.7 L331.5 450.9 L332.5 450.1 L333.5 449.3 L334.5 448.5 L335.5 447.7 L336.5 446.8 L337.5 446.0 L338.5 445.2 L339.5 444.3 L340.5 443.5 L341.5 442.6 L342.5 441.7 L343.5 440.8 L344.5 439.9 L345.5 439.0 L346.5 438.1 L347.5 437.2 L348.5 436.3 L349.5 435.4 L350.5 434.4 L351.5 433.5 L352.5 432.5 L353.5 431.5 L354.5 430.6 L355.5 429.6 L356.5 428.6 L357.5 427.6 L358.5 426.6 L359.5 425.6 L360.5 424.6 L361.5 423.5 L362.5 422.5 L363.5 421.4 L364.5 420.4 L365.5 419.3 L366.5 418.2 L367.5 417.1 L368.5 416.0 L369.5 414.9 L370.5 413.8 L371.5 412.6 L372.5 411.5 L373.5 410.3 L374.5 409.1 L375.5 408.0 L376.5 406.8 L377.5 405.6 L378.5 404.4 L379.5 403.1 L380.5 401.9 L381.5 400.7 L382.5 399.4 L383.5 398.1 L384.5 396.9 L385.5 395.6 L386.5 394.2 L387.5 392.9 L388.5 391.5 L389.5 390.2 L390.5 388.8 L391.5 387.3 L392.5 385.9 L393.5 384.5 L394.5 383.0 L395.5 381.5 L396.5 380.0 L397.5 378.5 L398.5 377.0 L399.5 375.4 L400.5 373.8 L401.5 372.2 L402.5 370.6 L403.5 369.0 L404.5 367.3 L405.5 365.6 L406.5 363.8 L407.5 362.1 L408.5 360.3 L409.5 358.5 L410.5 356.6 L411.5 354.7 L412.5 352.8 L413.5 350.8 L414.5 348.8 L415.5 346.7 L416.5 344.6 L417.0 343.6 L418.7 346.5 L419.3 352.0 L420.9 455.0 L421.5 459.8 L422.5 459.9 L423.5 459.9 L424.5 459.8 L425.5 459.7 L426.5 459.6 L427.5 459.6 L428.5 459.5 L429.5 459.4 L430.5 459.3 L431.5 459.2 L432.5 459.1 L433.5 459.0 L434.5 459.0 L435.5 458.9 L436.5 458.8 L437.5 458.7 L438.5 458.6 L439.5 458.5 L440.5 458.4 L441.5 458.2 L442.5 458.1 L443.5 458.0 L444.5 457.9 L445.5 457.8 L446.5 457.7 L447.5 457.5 L448.5 457.4 L449.5 457.3 L450.5 457.1 L451.5 457.0 L452.5 456.8 L453.5 456.7 L454.5 456.5 L455.5 456.4 L456.5 456.2 L457.5 456.1 L458.5 455.9 L459.5 455.8 L460.5 455.6 L461.5 455.5 L462.5 455.3 L463.5 455.1 L464.5 455.0 L465.5 454.8 L466.5 454.7 L467.5 454.5 L468.5 454.3 L469.5 454.2 L470.5 454.0 L471.5 453.9 L472.5 453.7 L473.5 453.6 L474.5 453.4 L475.5 453.3 L476.5 453.1 L477.5 453.0 L478.5 452.8 L479.5 452.7 L480.5 452.5 L481.5 452.4 L482.5 452.2 L483.5 452.1 L484.5 451.9 L485.5 451.8 L486.5 451.6 L487.5 451.5 L488.5 451.3 L489.5 451.2 L490.5 451.0 L491.5 450.9 L492.5 450.7 L493.5 450.6 L494.5 450.5 L495.5 450.3 L496.5 450.2 L497.5 450.0 L498.5 449.9 L499.5 449.7 L500.5 449.6 L501.5 449.4 L502.5 449.3 L503.5 449.1 L504.5 449.0 L505.5 448.8 L506.5 448.7 L507.5 448.5 L508.5 448.4 L509.5 448.2 L510.5 448.1 L511.5 447.9 L512.5 447.8 L513.5 447.6 L514.5 447.5 L515.5 447.3 L516.5 447.2 L517.5 447.0 L518.5 446.9 L519.5 446.8 L520.5 446.6 L521.5 446.5 L522.5 446.3 L523.5 446.2 L524.5 446.0 L525.5 445.9 L526.5 445.7 L527.5 445.6 L528.5 445.4 L529.5 445.3 L530.5 445.1 L531.5 445.0 L532.5 444.9 L533.5 444.7 L534.5 444.6 L535.5 444.4 L536.5 444.3 L537.5 444.1 L538.5 444.0 L539.5 443.8 L540.5 443.7 L541.5 443.6 L542.5 443.4 L543.5 443.3 L544.5 443.1 L545.5 443.0 L546.5 442.8 L547.5 442.7 L548.5 442.5 L549.5 442.4 L550.5 442.3 L551.5 442.1 L552.5 442.0 L553.5 441.8 L554.5 441.7 L555.5 441.5 L556.5 441.4 L557.5 441.2 L558.5 441.1 L559.5 441.0 L560.5 440.8 L561.5 440.7 L562.5 440.5 L563.5 440.4 L564.5 440.2 L565.5 440.1 L566.5 439.9 L567.5 439.8 L568.5 439.7 L569.5 439.5 L570.5 439.4 L571.5 439.2 L572.5 439.1 L573.5 438.9 L574.5 438.8 L575.5 438.7 L576.5 438.5 L577.5 438.4 L578.5 438.2 L579.5 438.1 L580.5 437.9 L581.5 437.8 L582.5 437.7 L583.5 437.5 L584.5 437.4 L585.5 437.2 L586.5 437.1 L587.5 437.0 L588.5 436.8 L589.5 436.7 L590.0 436.6" stroke="#0000ff" stroke-width="4.4" stroke-dasharray="0 7.06" stroke-linecap="round"/>
</g>
<g fill="none">
<path d="M166.6 364 H219.3" stroke="#000" stroke-width="2.2"/>
<path d="M167.65 392.1 H218" stroke="#ff0000" stroke-width="3.2" stroke-dasharray="3.9 7.5" stroke-linecap="round"/>
<path d="M167.6 420.1 H216" stroke="#000080" stroke-width="3.0" stroke-dasharray="0 5.24" stroke-linecap="round"/>
<path d="M467.8 364.1 H519" stroke="#0000ff" stroke-width="4.4" stroke-dasharray="0 7.06" stroke-linecap="round"/>
<path d="M467.7 392.1 H518.6" stroke="#008000" stroke-width="2.1" stroke-dasharray="9 5.6 1.7 5.75" stroke-linecap="round"/>
<path d="M468 420.1 H515" stroke="#ff8000" stroke-width="4" stroke-dasharray="9 8.9 1.05 8.9 1.05 9.05" stroke-linecap="round"/>
</g>
<path d="M138.2 662.6 V272.3 H581 M137.1 661.5 H581 M150.60 661.5 v8.6 M150.60 272.3 v-8.6 M175.66 661.5 v4.6 M175.66 272.3 v-4.6 M200.73 661.5 v4.6 M200.73 272.3 v-4.6 M225.80 661.5 v4.6 M225.80 272.3 v-4.6 M250.86 661.5 v8.6 M250.86 272.3 v-8.6 M275.93 661.5 v4.6 M275.93 272.3 v-4.6 M300.99 661.5 v4.6 M300.99 272.3 v-4.6 M326.06 661.5 v4.6 M326.06 272.3 v-4.6 M351.12 661.5 v8.6 M351.12 272.3 v-8.6 M376.19 661.5 v4.6 M376.19 272.3 v-4.6 M401.25 661.5 v4.6 M401.25 272.3 v-4.6 M426.32 661.5 v4.6 M426.32 272.3 v-4.6 M451.38 661.5 v8.6 M451.38 272.3 v-8.6 M476.45 661.5 v4.6 M476.45 272.3 v-4.6 M501.51 661.5 v4.6 M501.51 272.3 v-4.6 M526.58 661.5 v4.6 M526.58 272.3 v-4.6 M551.64 661.5 v8.6 M551.64 272.3 v-8.6 M576.71 661.5 v4.6 M576.71 272.3 v-4.6 M601.77 661.5 v4.6 M601.77 272.3 v-4.6 M138.2 649.05 h-8.6 M138.2 634.50 h-4.6 M138.2 619.95 h-4.6 M138.2 605.40 h-4.6 M138.2 590.85 h-4.6 M138.2 576.30 h-8.6 M138.2 561.75 h-4.6 M138.2 547.20 h-4.6 M138.2 532.65 h-4.6 M138.2 518.10 h-4.6 M138.2 503.55 h-8.6 M138.2 489.00 h-4.6 M138.2 474.45 h-4.6 M138.2 459.90 h-4.6 M138.2 445.35 h-4.6 M138.2 430.80 h-8.6 M138.2 416.25 h-4.6 M138.2 401.70 h-4.6 M138.2 387.15 h-4.6 M138.2 372.60 h-4.6 M138.2 358.05 h-8.6 M138.2 343.50 h-4.6 M138.2 328.95 h-4.6 M138.2 314.40 h-4.6 M138.2 299.85 h-4.6 M138.2 285.30 h-8.6" fill="none" stroke="#000" stroke-width="2.2" stroke-linecap="butt"/>
<text transform="translate(77.56 656.95) scale(1.0450 1)" font-size="23.6">0.60</text>
<text transform="translate(77.62 584.20) scale(1.0450 1)" font-size="23.6">0.65</text>
<text transform="translate(77.56 511.45) scale(1.0450 1)" font-size="23.6">0.70</text>
<text transform="translate(77.62 438.70) scale(1.0450 1)" font-size="23.6">0.75</text>
<text transform="translate(77.56 365.95) scale(1.0450 1)" font-size="23.6">0.80</text>
<text transform="translate(77.62 293.20) scale(1.0450 1)" font-size="23.6">0.85</text>
<text transform="translate(133.23 694.20) scale(1.0450 1)" font-size="23.6">0.0</text>
<text transform="translate(233.64 694.20) scale(1.0450 1)" font-size="23.6">0.2</text>
<text transform="translate(333.63 694.20) scale(1.0450 1)" font-size="23.6">0.4</text>
<text transform="translate(434.07 694.20) scale(1.0450 1)" font-size="23.6">0.6</text>
<text transform="translate(534.33 694.20) scale(1.0450 1)" font-size="23.6">0.8</text>
<text transform="translate(153.64 298.80) scale(1.1131 1)" font-size="22.4">N</text>
<text class="s" transform="translate(170.57 307.00) scale(1.0450 1)" font-size="13.8">el</text>
<text transform="translate(186.15 298.80) scale(1.0450 1)" font-size="22.4">/</text>
<text transform="translate(195.99 298.80) scale(1.0450 1)" font-size="22.4">N</text>
<text transform="translate(218.68 298.80) scale(1.0033 1)" font-size="22.4">=</text>
<text transform="translate(239.41 298.80) scale(0.9701 1)" font-size="22.4">1.0</text>
<path transform="translate(239.41 298.80) scale(0.9701 1)" fill="#fff" d="M0.51 -2.57H12.56V1H0.51Z"/>
<path transform="translate(239.41 298.80) scale(0.9701 1)" fill="#000" d="M5.65 -3.37H7.81V0.09H5.65Z"/>
<text transform="translate(282.66 298.80) scale(1.0320 1)" font-size="22.4">(AF1)</text>
<path transform="translate(282.66 298.80) scale(1.0320 1)" fill="#fff" d="M36.59 -2.57H48.65V1H36.59Z"/>
<path transform="translate(282.66 298.80) scale(1.0320 1)" fill="#000" d="M41.74 -3.37H43.90V0.09H41.74Z"/>
<text transform="translate(154.26 337.00) scale(1.0450 1)" font-size="22.4">p</text>
<text transform="translate(170.51 337.00) scale(1.0450 1)" font-size="22.4">a</text>
<text class="s" transform="translate(183.78 327.80) scale(1.0450 1)" font-size="13.8">3</text>
<text class="s" transform="translate(187.78 344.30) scale(1.0450 1)" font-size="13.8">0</text>
<text transform="translate(201.25 337.00) scale(1.0450 1)" font-size="22.4">/</text>
<text transform="translate(213.86 337.00) scale(1.0450 1)" font-size="22.4">(</text>
<text transform="translate(225.71 337.00) scale(1.0450 1)" font-size="22.4">k</text>
<text class="s" transform="translate(241.12 344.00) scale(1.0450 1)" font-size="13.8">B</text>
<text transform="translate(252.76 337.00) scale(1.0450 1)" font-size="22.4">T</text>
<text class="s" transform="translate(264.54 344.00) scale(1.0450 1)" font-size="13.8">D</text>
<text class="s" transform="translate(268.38 326.30) scale(1.0450 1)" font-size="13.8">0</text>
<text transform="translate(278.55 337.00) scale(1.0450 1)" font-size="22.4">)</text>
<text transform="translate(291.12 337.00) scale(1.0450 1)" font-size="22.4">:</text>
<text transform="translate(453.94 298.80) scale(1.1131 1)" font-size="22.4">N</text>
<text class="s" transform="translate(470.87 307.00) scale(1.0450 1)" font-size="13.8">el</text>
<text transform="translate(486.45 298.80) scale(1.0450 1)" font-size="22.4">/</text>
<text transform="translate(496.29 298.80) scale(1.0450 1)" font-size="22.4">N</text>
<text transform="translate(518.98 298.80) scale(1.0033 1)" font-size="22.4">=</text>
<text transform="translate(537.63 298.80) scale(1.0450 1)" font-size="22.4">0.5</text>
<text transform="translate(454.56 337.00) scale(1.0450 1)" font-size="22.4">p</text>
<text transform="translate(470.81 337.00) scale(1.0450 1)" font-size="22.4">a</text>
<text class="s" transform="translate(484.08 327.80) scale(1.0450 1)" font-size="13.8">3</text>
<text class="s" transform="translate(488.08 344.30) scale(1.0450 1)" font-size="13.8">0</text>
<text transform="translate(501.55 337.00) scale(1.0450 1)" font-size="22.4">/</text>
<text transform="translate(514.16 337.00) scale(1.0450 1)" font-size="22.4">(</text>
<text transform="translate(526.01 337.00) scale(1.0450 1)" font-size="22.4">k</text>
<text class="s" transform="translate(541.42 344.00) scale(1.0450 1)" font-size="13.8">B</text>
<text transform="translate(553.06 337.00) scale(1.0450 1)" font-size="22.4">T</text>
<text class="s" transform="translate(564.84 344.00) scale(1.0450 1)" font-size="13.8">D</text>
<text class="s" transform="translate(568.68 326.30) scale(1.0450 1)" font-size="13.8">0</text>
<text transform="translate(578.85 337.00) scale(1.0450 1)" font-size="22.4">)</text>
<text transform="translate(591.42 337.00) scale(1.0450 1)" font-size="22.4">:</text>
<text transform="translate(243.59 371.40) scale(1.0450 1)" font-size="22.4">0</text>
<text transform="translate(543.39 371.40) scale(1.0450 1)" font-size="22.4">0</text>
<text transform="translate(230.59 399.60) scale(1.0450 1)" font-size="22.4">10</text>
<path transform="translate(230.59 399.60) scale(1.0450 1)" fill="#fff" d="M0.51 -2.57H12.56V1H0.51Z"/>
<path transform="translate(230.59 399.60) scale(1.0450 1)" fill="#000" d="M5.65 -3.37H7.81V0.09H5.65Z"/>
<text transform="translate(530.39 399.60) scale(1.0450 1)" font-size="22.4">10</text>
<path transform="translate(530.39 399.60) scale(1.0450 1)" fill="#fff" d="M0.51 -2.57H12.56V1H0.51Z"/>
<path transform="translate(530.39 399.60) scale(1.0450 1)" fill="#000" d="M5.65 -3.37H7.81V0.09H5.65Z"/>
<text transform="translate(230.59 427.80) scale(1.0450 1)" font-size="22.4">20</text>
<text transform="translate(530.39 427.80) scale(1.0450 1)" font-size="22.4">20</text>
<text transform="translate(288.15 646.40) scale(1.0450 1)" font-size="22.4">J</text>
<text class="s" transform="translate(299.19 636.40) scale(1.0450 1)" font-size="13.8">d</text>
<text class="s" transform="translate(299.28 653.70) scale(1.0450 1)" font-size="13.8">0</text>
<text transform="translate(311.15 646.40) scale(1.0450 1)" font-size="22.4">/</text>
<text transform="translate(320.81 646.40) scale(1.0450 1)" font-size="22.4">(</text>
<text transform="translate(331.91 646.40) scale(1.0450 1)" font-size="22.4">k</text>
<text class="s" transform="translate(347.42 653.50) scale(1.0450 1)" font-size="13.8">B</text>
<text transform="translate(357.11 646.40) scale(1.0450 1)" font-size="22.4">T</text>
<text class="s" transform="translate(371.14 653.50) scale(1.0450 1)" font-size="13.8">D</text>
<text class="s" transform="translate(375.58 636.20) scale(1.0450 1)" font-size="13.8">0</text>
<text transform="translate(385.25 646.40) scale(1.0450 1)" font-size="22.4">)</text>
<text transform="translate(399.71 646.40) scale(0.9757 1)" font-size="22.4">=</text>
<text transform="translate(418.23 646.40) scale(1.0450 1)" font-size="22.4">0.5</text>
<text transform="translate(493.83 646.40) scale(1.0450 1)" font-size="22.4">D</text>
<text transform="translate(515.95 646.40) scale(1.0450 1)" font-size="22.4">/</text>
<text transform="translate(524.66 646.40) scale(1.0450 1)" font-size="22.4">(</text>
<text transform="translate(535.66 646.40) scale(1.0450 1)" font-size="22.4">k</text>
<text class="s" transform="translate(551.02 653.50) scale(1.0450 1)" font-size="13.8">B</text>
<text transform="translate(562.06 646.40) scale(1.0450 1)" font-size="22.4">T</text>
<text class="s" transform="translate(575.74 653.50) scale(1.0450 1)" font-size="13.8">D</text>
<text class="s" transform="translate(580.18 636.20) scale(1.0450 1)" font-size="13.8">0</text>
<text transform="translate(372.68 738.20) scale(1.0450 1)" font-size="25.0">T</text>
<text transform="translate(392.43 738.20) scale(1.0450 1)" font-size="25.0">/</text>
<text transform="translate(402.83 738.20) scale(1.0450 1)" font-size="25.0">T</text>
<text class="s" transform="translate(418.21 746.60) scale(1.0450 1)" font-size="14.0">D</text>
<text class="s" transform="translate(421.92 726.50) scale(1.0450 1)" font-size="14.0">0</text>
<g transform="rotate(-90)">
<text transform="translate(-572.34 51.70) scale(0.9597 1)" font-size="25.4">10</text>
<path transform="translate(-572.34 51.70) scale(0.9597 1)" fill="#fff" d="M0.73 -2.80H14.09V1H0.73Z"/>
<path transform="translate(-572.34 51.70) scale(0.9597 1)" fill="#000" d="M6.41 -3.60H8.83V0.09H6.41Z"/>
<text class="s" transform="translate(-545.40 39.00) scale(1.0450 1)" font-size="14.6">3</text>
<text transform="translate(-532.67 51.70) scale(1.1349 1)" font-size="21.8">κ</text>
<text class="s" transform="translate(-512.61 60.40) scale(0.9352 1)" font-size="14.6">T,h</text>
<text transform="translate(-490.63 51.70) scale(1.0450 1)" font-size="25.4">k</text>
<text class="s" transform="translate(-473.67 60.40) scale(1.0450 1)" font-size="14.6">B</text>
<text transform="translate(-464.05 51.70) scale(1.0450 1)" font-size="25.4">T</text>
<text class="s" transform="translate(-449.78 60.40) scale(1.0450 1)" font-size="14.6">D</text>
<text class="s" transform="translate(-444.80 39.00) scale(1.0450 1)" font-size="14.6">0</text>
<text transform="translate(-434.33 51.70) scale(1.0450 1)" font-size="25.4">/</text>
<text transform="translate(-424.48 51.70) scale(1.0450 1)" font-size="25.4">a</text>
<text class="s" transform="translate(-408.80 39.00) scale(1.0450 1)" font-size="14.6">3</text>
<text class="s" transform="translate(-404.90 60.60) scale(1.0450 1)" font-size="14.6">0</text>
</g>
</svg>
</body></html>
